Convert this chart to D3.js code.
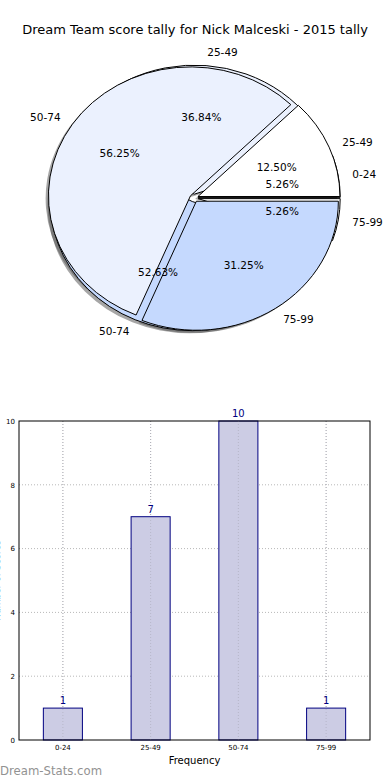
<!DOCTYPE html>
<html>
<head>
<meta charset="utf-8">
<script src="https://cdn.jsdelivr.net/npm/d3@7"></script>
<style>
  html, body { margin: 0; padding: 0; background: #fff; }
  svg { display: block; font-family: "DejaVu Sans", sans-serif; }
</style>
</head>
<body>
<svg id="chart" width="390" height="780"></svg>
<script>
// ---- data ----
const titleText = "Dream Team score tally for Nick Malceski - 2015 tally";
const pie1Cats = ["0-24", "25-49", "50-74", "75-99"];
const pie1Counts = [1, 7, 10, 1];
const pie2Cats = ["25-49", "50-74", "75-99"];
const pie2Counts = [2, 9, 5];
const barCats = ["0-24", "25-49", "50-74", "75-99"];
const barValues = [1, 7, 10, 1];
const yTicks = [0, 2, 4, 6, 8, 10];
const palette = ["#ffffff", "#ebf1fe", "#c5d9fe"];

const svg = d3.select("#chart");

svg.append("text")
  .attr("x", 195).attr("y", 34)
  .attr("text-anchor", "middle")
  .attr("font-size", 13)
  .text(titleText);

// ---- pies ----
const cx = 194, cy = 198, rx = 142, ry = 129;
const explode = 0.03;
const arcGen = d3.arc().innerRadius(0).outerRadius(1);
const pieGen = d3.pie().sort(null).startAngle(Math.PI / 2).endAngle(Math.PI / 2 - 2 * Math.PI);

function layout(cats, counts) {
  const total = d3.sum(counts);
  return pieGen(counts).map((a, i) => {
    const mid = (a.startAngle + a.endAngle) / 2;
    return {
      arc: a, cat: cats[i], color: palette[i % palette.length],
      pct: d3.format(".2f")(counts[i] / total * 100) + "%",
      mid,
      dx: explode * rx * Math.sin(mid),
      dy: -explode * ry * Math.cos(mid)
    };
  });
}
const pies = [layout(pie1Cats, pie1Counts), layout(pie2Cats, pie2Counts)];

const pieLayer = svg.append("g");
// shadows
pies.forEach(p => {
  pieLayer.selectAll(null).data(p).enter().append("path")
    .attr("transform", d => `translate(${cx + d.dx - 0.02 * rx},${cy + d.dy + 0.02 * ry}) scale(${rx},${ry})`)
    .attr("d", d => arcGen(d.arc))
    .attr("fill", "#4d4d4d")
    .attr("fill-opacity", 0.5);
});
// wedges
pies.forEach(p => {
  pieLayer.selectAll(null).data(p).enter().append("path")
    .attr("transform", d => `translate(${cx + d.dx},${cy + d.dy}) scale(${rx},${ry})`)
    .attr("d", d => arcGen(d.arc))
    .attr("fill", d => d.color)
    .attr("stroke", "#000")
    .attr("stroke-width", 1)
    .attr("stroke-linejoin", "round")
    .attr("vector-effect", "non-scaling-stroke");
});
// texts
pies.forEach(p => {
  pieLayer.selectAll(null).data(p).enter().append("text")
    .attr("x", d => cx + d.dx + 1.1 * rx * Math.sin(d.mid))
    .attr("y", d => cy + d.dy - 1.1 * ry * Math.cos(d.mid))
    .attr("dy", "0.35em")
    .attr("text-anchor", d => Math.sin(d.mid) >= 0 ? "start" : "end")
    .attr("font-size", 10.5)
    .text(d => d.cat);
  pieLayer.selectAll(null).data(p).enter().append("text")
    .attr("x", d => cx + d.dx + 0.6 * rx * Math.sin(d.mid))
    .attr("y", d => cy + d.dy - 0.6 * ry * Math.cos(d.mid))
    .attr("dy", "0.35em")
    .attr("text-anchor", "middle")
    .attr("font-size", 10.5)
    .text(d => d.pct);
});

// ---- bar chart ----
const plotL = 19, plotR = 370, plotT = 421, plotB = 740;
const x = d3.scaleBand().domain(barCats).range([plotL, plotR]).padding(0);
const y = d3.scaleLinear().domain([0, 10]).range([plotB, plotT]);
const barW = x.bandwidth() * 0.445;

const bar = svg.append("g");
// grid
bar.selectAll(null).data(yTicks.slice(1, -1)).enter().append("line")
  .attr("x1", plotL).attr("x2", plotR)
  .attr("y1", d => y(d)).attr("y2", d => y(d))
  .attr("stroke", "#b8b8b8").attr("stroke-width", 1).attr("stroke-dasharray", "1,2");
bar.selectAll(null).data(barCats).enter().append("line")
  .attr("x1", d => x(d) + x.bandwidth() / 2).attr("x2", d => x(d) + x.bandwidth() / 2)
  .attr("y1", plotT).attr("y2", plotB)
  .attr("stroke", "#b8b8b8").attr("stroke-width", 1).attr("stroke-dasharray", "1,2");

// bars
bar.selectAll(null).data(barValues).enter().append("rect")
  .attr("x", (d, i) => x(barCats[i]) + x.bandwidth() / 2 - barW / 2)
  .attr("y", d => y(d))
  .attr("width", barW)
  .attr("height", d => y(0) - y(d))
  .attr("fill", "#ccccE4")
  .attr("stroke", "#000080")
  .attr("stroke-width", 1);

// grid visible over bars
bar.selectAll(null).data(barCats).enter().append("line")
  .attr("x1", d => x(d) + x.bandwidth() / 2).attr("x2", d => x(d) + x.bandwidth() / 2)
  .attr("y1", plotT).attr("y2", plotB)
  .attr("stroke", "#a8a8b8").attr("stroke-width", 1).attr("stroke-dasharray", "1,2")
  .attr("stroke-opacity", 0.6);

// value labels
bar.selectAll(null).data(barValues).enter().append("text")
  .attr("x", (d, i) => x(barCats[i]) + x.bandwidth() / 2)
  .attr("y", d => y(d) - 4)
  .attr("text-anchor", "middle")
  .attr("font-size", 10)
  .attr("fill", "#000080")
  .text(d => d);

// frame
bar.append("rect")
  .attr("x", plotL).attr("y", plotT)
  .attr("width", plotR - plotL).attr("height", plotB - plotT)
  .attr("fill", "none").attr("stroke", "#000").attr("stroke-width", 1);

// axes
const yAxis = bar.append("g")
  .attr("transform", `translate(${plotL},0)`)
  .call(d3.axisLeft(y).tickValues(yTicks).tickSize(0).tickPadding(4));
yAxis.select(".domain").remove();
yAxis.selectAll("text").attr("font-size", 7).attr("font-family", "DejaVu Sans, sans-serif").attr("fill", "#000");

const xAxis = bar.append("g")
  .attr("transform", `translate(0,${plotB})`)
  .call(d3.axisBottom(x).tickSize(0).tickPadding(5));
xAxis.select(".domain").remove();
xAxis.selectAll("text").attr("font-size", 7).attr("font-family", "DejaVu Sans, sans-serif").attr("fill", "#000");

svg.append("text")
  .attr("x", (plotL + plotR) / 2).attr("y", 764)
  .attr("text-anchor", "middle")
  .attr("font-size", 10)
  .text("Frequency");

// y-axis title, clipped at the left edge as in the reference
svg.append("text")
  .attr("transform", `translate(0,${(plotT + plotB) / 2}) rotate(-90)`)
  .attr("text-anchor", "middle")
  .attr("font-size", 9)
  .attr("fill", "#000")
  .text("Number of Scores");

svg.append("text")
  .attr("x", 0).attr("y", 775)
  .attr("font-size", 11.7)
  .attr("fill", "#929292")
  .text("Dream-Stats.com");
</script>
</body>
</html>
